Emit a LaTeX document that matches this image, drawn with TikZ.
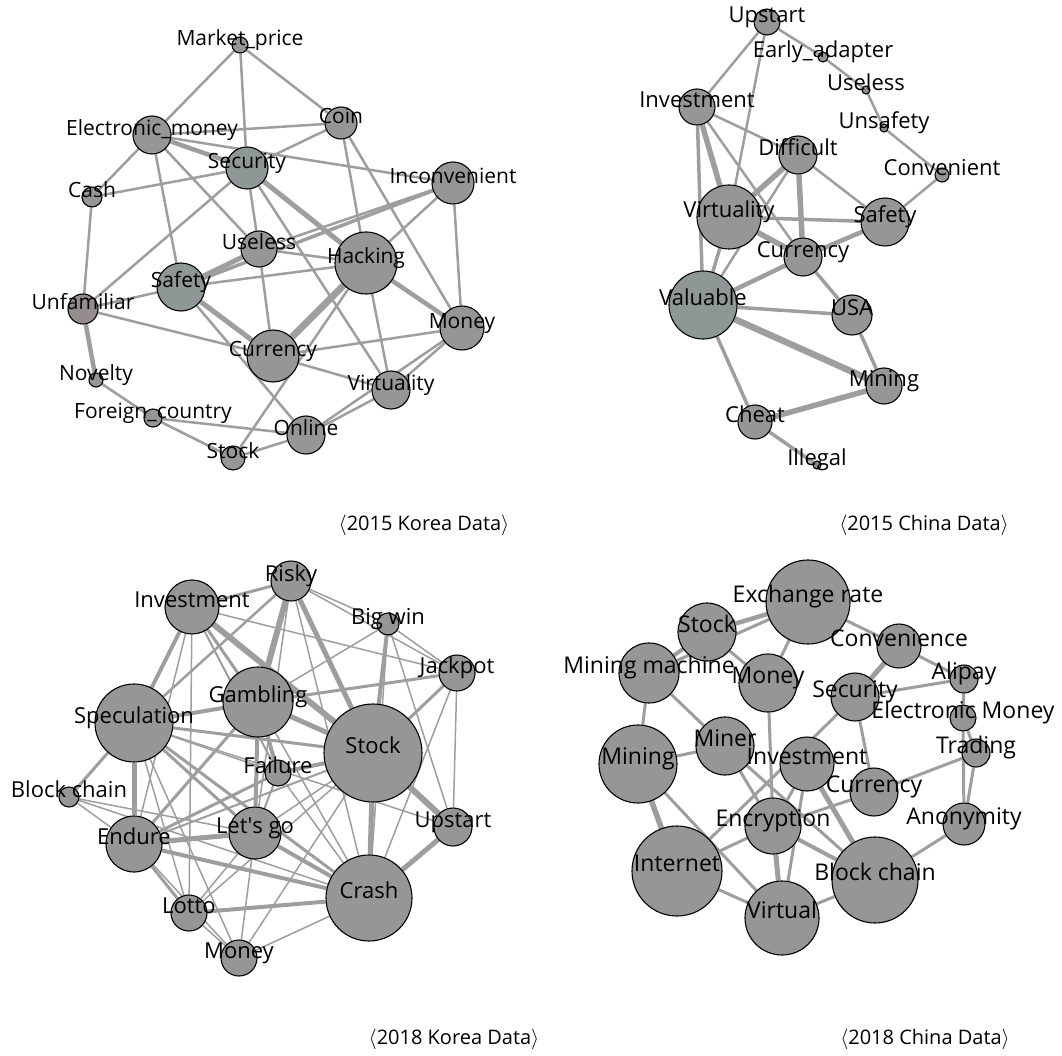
\documentclass[tikz,border=0pt]{standalone}
\usepackage{fontspec}
\setmainfont{Open Sans}
\newfontfamily\plainos{Open Sans}
\usepackage{xcolor}
\definecolor{nodegray}{HTML}{969696}
\definecolor{tealgray}{HTML}{8E9696}
\definecolor{warmgray}{HTML}{958D8D}
\definecolor{edgegray}{HTML}{9E9E9E}
\pgfdeclarelayer{edges}
\pgfdeclarelayer{front}
\pgfsetlayers{edges,main,front}
\tikzstyle{vtx}=[circle, draw=black, line width=1.1, inner sep=0pt]
\tikzstyle{lbl}=[inner sep=0pt, text height=0.72em, text depth=0.22em]
\tikzstyle{lnk}=[draw=edgegray]
\tikzstyle{capt}=[inner sep=0pt, font=\fontsize{20}{23}\selectfont]

\begin{document}
\begin{tikzpicture}[x=1pt,y=-1pt]
\useasboundingbox (0,0) rectangle (1062,1056);

\begin{scope}[font=\fontsize{21}{24}\selectfont]
\foreach \nm/\px/\py/\rd/\txt/\fc in {ka-mp/240/45/8/Market\_price/nodegray, ka-em/152/135/19/Electronic\_money/nodegray, ka-coin/341/123/16/Coin/nodegray, ka-sec/247/168/21/Security/tealgray, ka-cash/92/197/10/Cash/nodegray, ka-inc/453/183/21/Inconvenient/nodegray, ka-use/259/249/18/Useless/nodegray, ka-hack/366/263/31/Hacking/nodegray, ka-saf/181/287/24/Safety/tealgray, ka-unf/83/309/15/Unfamiliar/warmgray, ka-mon/462/328/22/Money/nodegray, ka-cur/273/356/26/Currency/nodegray, ka-nov/96/380/7/Novelty/nodegray, ka-vir/391/390/19/Virtuality/nodegray, ka-fc/153/418/9/Foreign\_country/nodegray, ka-onl/306/435/19/Online/nodegray, ka-stk/233/458/12/Stock/nodegray}{
  \node[vtx, fill=\fc, minimum size=2*\rd] (\nm) at (\px,\py) {};
  \begin{pgfonlayer}{front}\node[lbl] (\nm-l) at (\px,\py-2) {\txt};\end{pgfonlayer}
}
\end{scope}
\begin{pgfonlayer}{edges}
\foreach \a/\b/\w in {ka-mp/ka-em/2.5, ka-mp/ka-sec/2.5, ka-mp/ka-coin/2.5, ka-em/ka-coin/2.5, ka-em/ka-sec/4.5, ka-em/ka-inc/2.5, ka-em/ka-cash/2.5, ka-em/ka-saf/2.5, ka-em/ka-use/2.5, ka-coin/ka-sec/2.5, ka-coin/ka-hack/2.5, ka-coin/ka-mon/2.5, ka-sec/ka-cash/2.5, ka-sec/ka-unf/2.5, ka-sec/ka-use/2.5, ka-sec/ka-hack/5, ka-sec/ka-vir/2.5, ka-inc/ka-use/2.5, ka-inc/ka-saf/3.5, ka-inc/ka-hack/2.5, ka-inc/ka-mon/2.5, ka-use/ka-hack/2.5, ka-use/ka-saf/5, ka-use/ka-cur/2.5, ka-hack/ka-saf/2.5, ka-hack/ka-cur/7, ka-hack/ka-mon/4.5, ka-hack/ka-vir/2.5, ka-hack/ka-stk/2.5, ka-saf/ka-unf/2.5, ka-saf/ka-cur/5, ka-saf/ka-onl/2.5, ka-unf/ka-cash/2.5, ka-unf/ka-cur/2.5, ka-unf/ka-nov/4.5, ka-cur/ka-mon/2.5, ka-cur/ka-vir/2.5, ka-mon/ka-vir/2.5, ka-mon/ka-onl/2.5, ka-vir/ka-onl/2.5, ka-nov/ka-fc/2.5, ka-fc/ka-stk/2.5, ka-fc/ka-onl/2.5, ka-stk/ka-onl/2.5}
  \draw[lnk, line width=\w] (\a) -- (\b);
\end{pgfonlayer}

\begin{scope}[font=\fontsize{22}{25}\selectfont]
\foreach \nm/\px/\py/\rd/\txt/\fc in {ca-up/767/22/13/Upstart/nodegray, ca-ea/823/57/5/Early\_adapter/nodegray, ca-usl/866/90/4/Useless/warmgray, ca-uns/884/128/4/Unsafety/nodegray, ca-conv/942/175/7/Convenient/nodegray, ca-inv/697/107/18/Investment/nodegray, ca-dif/798/155/19/Difficult/nodegray, ca-vir/729/217/32/Virtuality/nodegray, ca-saf/885/222/24/Safety/nodegray, ca-cur/803/257/19/Currency/nodegray, ca-val/703/305/34/Valuable/tealgray, ca-usa/852/315/20/USA/nodegray, ca-min/884/386/18/Mining/nodegray, ca-che/755/422/17/Cheat/nodegray, ca-ill/817/465/4/Illegal/warmgray}{
  \node[vtx, fill=\fc, minimum size=2*\rd] (\nm) at (\px,\py) {};
  \begin{pgfonlayer}{front}\node[lbl] (\nm-l) at (\px,\py-2) {\txt};\end{pgfonlayer}
}
\end{scope}
\begin{pgfonlayer}{edges}
\foreach \a/\b/\w in {ca-up/ca-inv/2.5, ca-up/ca-vir/2.5, ca-up/ca-ea/2.5, ca-ea/ca-usl/2.5, ca-usl/ca-uns/2.5, ca-uns/ca-conv/2.5, ca-conv/ca-saf/2.5, ca-inv/ca-dif/2.5, ca-inv/ca-vir/5.5, ca-inv/ca-val/3.5, ca-inv/ca-cur/2.5, ca-dif/ca-vir/5.5, ca-dif/ca-val/2.5, ca-dif/ca-cur/5.5, ca-dif/ca-saf/2.5, ca-vir/ca-saf/3.5, ca-vir/ca-cur/5.5, ca-vir/ca-val/3.5, ca-saf/ca-cur/4.5, ca-cur/ca-val/4.5, ca-cur/ca-usa/3.5, ca-val/ca-usa/3.5, ca-val/ca-min/6.5, ca-val/ca-che/3.5, ca-usa/ca-min/3.5, ca-min/ca-che/5.5, ca-che/ca-ill/3.5}
  \draw[lnk, line width=\w] (\a) -- (\b);
\end{pgfonlayer}

\begin{scope}[font=\fontsize{22}{25}\selectfont]
\foreach \nm/\px/\py/\rd/\txt/\fc in {kb-risk/291/581/20/Risky/nodegray, kb-inv/192/607/27/Investment/nodegray, kb-big/388/624/11/Big win/nodegray, kb-jack/457/673/18/Jackpot/nodegray, kb-gam/258/702/35/Gambling/nodegray, kb-spec/134/723/39/Speculation/nodegray, kb-stk/373/753/49/Stock/nodegray, kb-fail/278/773/13/Failure/nodegray, kb-blk/69/797/10/Block chain/nodegray, kb-ups/453/827/19/Upstart/nodegray, kb-lets/255/833/26/Let{\plainos\char39}s go/nodegray, kb-end/134/844/28/Endure/nodegray, kb-cra/369/898/43/Crash/nodegray, kb-lot/189/913/18/Lotto/nodegray, kb-mon/239/958/18/Money/nodegray}{
  \node[vtx, fill=\fc, minimum size=2*\rd] (\nm) at (\px,\py) {};
  \begin{pgfonlayer}{front}\node[lbl] (\nm-l) at (\px,\py-2) {\txt};\end{pgfonlayer}
}
\end{scope}
\begin{pgfonlayer}{edges}
\foreach \a/\b/\w in {kb-inv/kb-risk/3, kb-inv/kb-spec/4, kb-inv/kb-gam/3, kb-inv/kb-stk/6, kb-inv/kb-jack/1.5, kb-inv/kb-lot/1.5, kb-inv/kb-end/1.5, kb-inv/kb-fail/2, kb-risk/kb-spec/2.5, kb-risk/kb-gam/6, kb-risk/kb-stk/5, kb-risk/kb-big/1.5, kb-risk/kb-jack/1.5, kb-risk/kb-lets/1.5, kb-risk/kb-cra/1.5, kb-big/kb-gam/1.5, kb-big/kb-stk/4, kb-big/kb-jack/1.5, kb-big/kb-ups/1.5, kb-big/kb-cra/1.5, kb-jack/kb-gam/3, kb-jack/kb-stk/3, kb-jack/kb-ups/1.5, kb-jack/kb-cra/1.5, kb-gam/kb-spec/4, kb-gam/kb-stk/5, kb-gam/kb-fail/4, kb-gam/kb-lets/4, kb-gam/kb-end/3, kb-gam/kb-cra/1.5, kb-spec/kb-stk/3, kb-spec/kb-fail/1.5, kb-spec/kb-ups/1.5, kb-spec/kb-end/5, kb-spec/kb-blk/3, kb-spec/kb-lets/3, kb-spec/kb-cra/3, kb-spec/kb-lot/1.5, kb-spec/kb-mon/1.5, kb-blk/kb-end/1.5, kb-blk/kb-lets/1.5, kb-blk/kb-cra/1.5, kb-end/kb-lets/5, kb-end/kb-fail/3, kb-end/kb-stk/2, kb-end/kb-cra/4, kb-end/kb-lot/3, kb-end/kb-mon/1.5, kb-lets/kb-stk/1.5, kb-lets/kb-cra/4, kb-lets/kb-lot/1.5, kb-lets/kb-mon/1.5, kb-lets/kb-fail/2, kb-lot/kb-cra/4, kb-lot/kb-mon/1.5, kb-lot/kb-stk/1.5, kb-mon/kb-cra/1.5, kb-mon/kb-stk/1.5, kb-cra/kb-stk/5, kb-cra/kb-ups/5, kb-stk/kb-ups/6, kb-stk/kb-fail/4, kb-cra/kb-fail/1.5}
  \draw[lnk, line width=\w] (\a) -- (\b);
\end{pgfonlayer}

\begin{scope}[font=\fontsize{23}{26}\selectfont]
\foreach \nm/\px/\py/\rd/\txt/\fc in {cb-exr/808/602/42/Exchange rate/nodegray, cb-stk/707/632/29/Stock/nodegray, cb-conv/899/646/22/Convenience/nodegray, cb-mm/649/673/30/Mining machine/nodegray, cb-mon/768/683/29/Money/nodegray, cb-ali/964/679/14/Alipay/nodegray, cb-sec/855/697/24/Security/nodegray, cb-emn/963/718/13/Electronic Money/nodegray, cb-trd/976/753/14/Trading/nodegray, cb-mnr/725/746/29/Miner/nodegray, cb-mng/638/764/39/Mining/nodegray, cb-inv/807/764/27/Investment/nodegray, cb-cur/874/792/24/Currency/nodegray, cb-ano/964/824/21/Anonymity/nodegray, cb-enc/773/826/28/Encryption/nodegray, cb-int/677/871/45/Internet/nodegray, cb-bc/875/880/43/Block chain/nodegray, cb-vir/782/918/37/Virtual/nodegray}{
  \node[vtx, fill=\fc, minimum size=2*\rd] (\nm) at (\px,\py) {};
  \begin{pgfonlayer}{front}\node[lbl] (\nm-l) at (\px,\py-2) {\txt};\end{pgfonlayer}
}
\end{scope}
\begin{pgfonlayer}{edges}
\foreach \a/\b/\w in {cb-exr/cb-stk/4.5, cb-exr/cb-mm/3, cb-exr/cb-mon/3, cb-exr/cb-conv/3, cb-stk/cb-mm/4, cb-stk/cb-mon/3, cb-conv/cb-sec/5, cb-conv/cb-ali/3, cb-sec/cb-ali/3, cb-sec/cb-int/3, cb-sec/cb-cur/3, cb-ali/cb-emn/3, cb-emn/cb-trd/3, cb-trd/cb-ano/3, cb-emn/cb-ano/3, cb-trd/cb-cur/3, cb-mon/cb-enc/3, cb-mm/cb-mng/3, cb-mm/cb-mnr/3, cb-mng/cb-mnr/3, cb-mng/cb-int/5.5, cb-mng/cb-vir/3, cb-mnr/cb-enc/3, cb-mnr/cb-bc/3, cb-inv/cb-enc/3, cb-inv/cb-vir/3, cb-inv/cb-bc/5, cb-cur/cb-enc/3, cb-enc/cb-int/3, cb-enc/cb-vir/5, cb-enc/cb-bc/4, cb-int/cb-vir/3, cb-vir/cb-bc/3, cb-bc/cb-ano/3}
  \draw[lnk, line width=\w] (\a) -- (\b);
\end{pgfonlayer}

\node[capt] (cap-ka) at (424,525) {$\langle$2015 Korea Data$\rangle$};
\node[capt] (cap-ca) at (924,525) {$\langle$2015 China Data$\rangle$};
\node[capt] (cap-kb) at (454,1039) {$\langle$2018 Korea Data$\rangle$};
\node[capt] (cap-cb) at (925,1039) {$\langle$2018 China Data$\rangle$};
\end{tikzpicture}
\end{document}
